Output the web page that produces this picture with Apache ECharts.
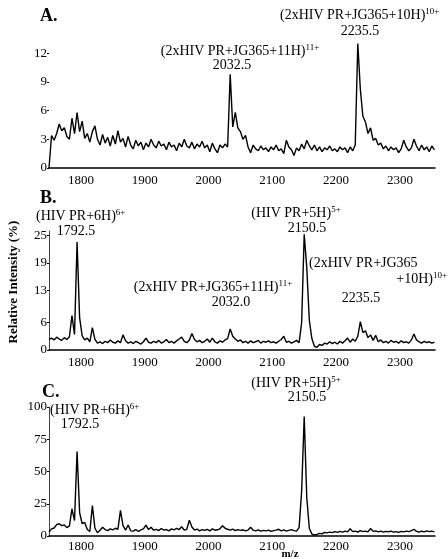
<!DOCTYPE html>
<html>
<head>
<meta charset="utf-8">
<script src="https://cdn.jsdelivr.net/npm/echarts@6/dist/echarts.min.js"></script>
<style>
html,body{margin:0;padding:0;background:#fff;}
#chart{width:448px;height:559px;}
</style>
</head>
<body>
<div id="chart"></div>
<script>
// m/z grid (shared by all three spectra)
var mz = [
1750,1754,1758,1762,1766,1770,1774,1778,1782,1786,
1790,1794,1798,1802,1806,1810,1814,1818,1822,1826,
1830,1834,1838,1842,1846,1850,1854,1858,1862,1866,
1870,1874,1878,1882,1886,1890,1894,1898,1902,1906,
1910,1914,1918,1922,1926,1930,1934,1938,1942,1946,
1950,1954,1958,1962,1966,1970,1974,1978,1982,1986,
1990,1994,1998,2002,2006,2010,2014,2018,2022,2026,
2030,2034,2038,2042,2046,2050,2054,2058,2062,2066,
2070,2074,2078,2082,2086,2090,2094,2098,2102,2106,
2110,2114,2118,2122,2126,2130,2134,2138,2142,2146,
2150,2154,2158,2162,2166,2170,2174,2178,2182,2186,
2190,2194,2198,2202,2206,2210,2214,2218,2222,2226,
2230,2234,2238,2242,2246,2250,2254,2258,2262,2266,
2270,2274,2278,2282,2286,2290,2294,2298,2302,2306,
2310,2314,2318,2322,2326,2330,2334,2338,2342,2346,
2350,2354];

// Panel A: relative intensity (%)
var intensityA = [
0,3.4,2.9,3.6,4.6,3.9,4.2,3.3,3.0,5.2,
3.6,5.8,3.8,4.9,3.1,3.6,2.7,3.8,4.4,3.0,
2.4,3.5,2.6,3.2,2.3,3.4,2.5,3.9,2.7,3.1,
2.2,3.3,2.4,2.0,2.9,2.3,2.7,1.9,2.6,2.2,
3.0,2.4,2.1,2.8,2.3,2.5,1.9,2.7,2.2,2.4,
1.8,2.6,2.2,3.0,2.3,2.1,2.7,2.0,2.5,2.2,
2.8,2.1,2.4,1.7,2.6,2.0,1.6,2.4,2.1,2.5,
2.2,9.8,4.3,5.8,4.2,3.8,3.0,3.4,2.2,1.6,
2.4,2.0,1.8,2.3,1.9,2.1,1.7,2.2,1.9,2.4,
1.8,2.0,1.5,2.9,2.2,1.9,1.3,2.1,1.8,2.5,
2.0,2.9,2.3,1.9,2.4,1.8,2.2,1.7,2.1,1.9,
2.3,1.8,2.0,1.7,2.2,1.9,2.1,1.6,2.2,1.8,
2.4,13.0,8.2,5.4,4.8,3.6,4.2,2.9,3.1,2.4,
2.6,2.0,2.3,1.8,2.2,1.9,2.1,1.6,2.0,2.9,
2.2,1.8,2.1,3.0,2.3,1.8,2.4,1.9,2.2,1.7,
2.3,1.9];

// Panel B
var intensityB = [
2.3,2.6,2.2,2.8,2.4,2.1,2.7,2.3,2.9,7.5,
3.4,23.6,7.0,3.1,2.2,2.6,1.8,4.9,2.3,1.5,
1.8,1.4,1.9,1.6,2.2,1.7,1.5,2.0,1.6,3.3,
2.0,1.5,1.8,1.4,1.9,1.6,1.3,1.8,2.6,1.7,
1.5,1.9,1.6,2.1,1.5,1.8,2.3,1.6,1.9,1.5,
2.0,2.4,2.8,1.9,1.6,2.2,3.6,2.3,1.8,2.1,
1.6,1.9,2.4,1.7,2.6,1.8,1.5,2.0,1.7,2.2,
2.5,4.6,3.0,2.4,1.9,2.2,1.6,1.9,1.5,2.0,
1.6,1.8,2.1,1.5,1.9,1.7,2.0,1.6,1.8,1.5,
1.9,2.3,3.0,1.7,1.9,1.5,1.8,2.1,1.6,6.0,
25.3,18.0,6.5,2.5,0.8,0.6,1.2,1.0,1.5,1.3,
1.8,1.4,1.7,1.3,1.9,1.5,2.0,2.6,1.7,2.4,
1.9,3.0,6.2,3.8,4.2,2.7,3.3,2.1,3.2,1.8,
2.2,1.6,1.9,1.5,2.1,1.7,1.9,1.5,2.0,1.6,
1.8,1.5,2.2,3.5,2.2,1.8,1.5,1.9,1.6,1.8,
1.5,1.7];

// Panel C
var intensityC = [
3.0,5.5,6.2,8.8,9.5,8.0,8.6,6.5,7.8,21.0,
12.0,65.4,18.0,9.5,10.5,5.0,3.5,23.5,6.0,2.5,
4.5,6.8,5.0,4.2,5.5,4.8,6.0,5.2,19.8,8.0,
4.5,8.5,4.0,3.8,5.0,3.5,4.8,5.5,8.5,5.0,
6.8,4.5,5.2,4.2,5.8,4.6,5.0,4.0,5.5,4.8,
6.0,5.0,7.2,4.5,5.2,12.3,7.0,4.6,5.4,4.0,
5.0,4.4,5.2,4.0,5.5,4.5,4.8,5.6,8.0,6.0,
5.2,4.6,5.4,4.2,5.0,4.4,4.8,4.0,4.6,6.8,
4.5,4.0,4.8,3.8,4.4,4.0,4.6,3.6,4.2,4.6,
5.2,4.0,4.8,3.8,4.4,5.0,4.2,3.8,6.5,35.0,
92.6,30.0,6.0,1.5,0.8,1.2,2.0,1.6,2.8,2.4,
3.0,2.6,3.4,2.8,3.6,3.0,3.8,3.2,5.6,3.4,
3.8,3.0,4.2,3.4,3.8,3.2,5.8,3.6,4.0,3.2,
3.8,3.0,3.6,3.2,3.8,3.0,3.4,2.8,3.6,3.2,
3.8,3.4,4.2,5.2,3.6,3.0,3.8,3.2,4.0,3.4,
3.8,3.2];

// tick labels
var xTicks = [1800,1900,2000,2100,2200,2300];
var yTicksA = [0,3,6,9,12];
var yTicksB = [0,6,13,19,25];
var yTicksC = [0,25,50,75,100];

var SERIF = '"Liberation Serif","DejaVu Serif",serif';

function pairs(v){ return mz.map(function(m,i){ return [m, v[i]]; }); }

var grids = [
  {left:49, right:13, top:34, height:134},
  {left:49, right:13, top:231, height:119},
  {left:49, right:13, top:407, height:129}
];
var yMax = [14, 26, 100];
var yTicks = [yTicksA, yTicksB, yTicksC];
var xLabelMargin = [6, 6, 4];

var xAxes = [], yAxes = [], series = [];
[intensityA, intensityB, intensityC].forEach(function(vals, k){
  xAxes.push({
    type:'value', gridIndex:k, min:1750, max:2355,
    axisLine:{show:true, onZero:false, lineStyle:{color:'#000', width:1.5}},
    axisTick:{show:false},
    splitLine:{show:false},
    axisLabel:{customValues:xTicks, color:'#000', fontFamily:SERIF, fontSize:13, margin:xLabelMargin[k],
      formatter:function(v){ return String(v); }}
  });
  yAxes.push({
    type:'value', gridIndex:k, min:0, max:yMax[k],
    axisLine:{show:k!==0, lineStyle:{color:'#444', width:1}},
    axisTick:{show:true, customValues:yTicks[k], length:2, lineStyle:{color:'#000'}},
    splitLine:{show:false},
    axisLabel:{customValues:yTicks[k], color:'#000', fontFamily:SERIF, fontSize:13, margin:2,
      formatter:function(v){ return String(v); }}
  });
  series.push({
    type:'line', xAxisIndex:k, yAxisIndex:k, data:pairs(vals),
    showSymbol:false, symbol:'none', animation:false,
    lineStyle:{color:'#000', width:1.4}
  });
});

var richSup = {
  s:{fontSize:9, fontFamily:SERIF, color:'#000', verticalAlign:'top', lineHeight:15}
};
function txt(x, y, text, align, opts){
  opts = opts || {};
  return {
    type:'text', x:x, y:y, silent:true,
    rotation: opts.rotation || 0,
    style:{
      text:text, fill:'#000',
      font:(opts.weight||'normal') + ' ' + (opts.size||14) + 'px ' + SERIF,
      align:align||'center', verticalAlign:'middle',
      lineHeight:15,
      rich:richSup
    }
  };
}

var graphics = [
  txt(40, 16, 'A.', 'left', {weight:'bold', size:18}),
  txt(280, 15, '(2xHIV PR+JG365+10H){s|10+}', 'left'),
  txt(360, 31, '2235.5', 'center'),
  txt(240, 51, '(2xHIV PR+JG365+11H){s|11+}', 'center'),
  txt(232, 65, '2032.5', 'center'),

  txt(40, 198, 'B.', 'left', {weight:'bold', size:18}),
  txt(36, 216, '(HIV PR+6H){s|6+}', 'left'),
  txt(76, 231, '1792.5', 'center'),
  txt(296, 213, '(HIV PR+5H){s|5+}', 'center'),
  txt(307, 228, '2150.5', 'center'),
  txt(309, 263, '(2xHIV PR+JG365', 'left'),
  txt(447, 279, '+10H){s|10+}', 'right'),
  txt(361, 298, '2235.5', 'center'),
  txt(213, 287, '(2xHIV PR+JG365+11H){s|11+}', 'center'),
  txt(231, 302, '2032.0', 'center'),

  txt(42, 392, 'C.', 'left', {weight:'bold', size:18}),
  txt(296, 383, '(HIV PR+5H){s|5+}', 'center'),
  txt(307, 397, '2150.5', 'center'),
  txt(50, 410, '(HIV PR+6H){s|6+}', 'left'),
  txt(80, 424, '1792.5', 'center'),

  txt(290, 554, 'm/z', 'center', {size:11, weight:'bold'}),
  txt(14, 282, 'Relative Intensity (%)', 'center', {weight:'bold', size:13, rotation:Math.PI/2})
];

var chart = echarts.init(document.getElementById('chart'), null, {renderer:'canvas'});
chart.setOption({
  animation:false,
  backgroundColor:'#fff',
  grid:grids,
  xAxis:xAxes,
  yAxis:yAxes,
  series:series,
  graphic:graphics
});
</script>
</body>
</html>
